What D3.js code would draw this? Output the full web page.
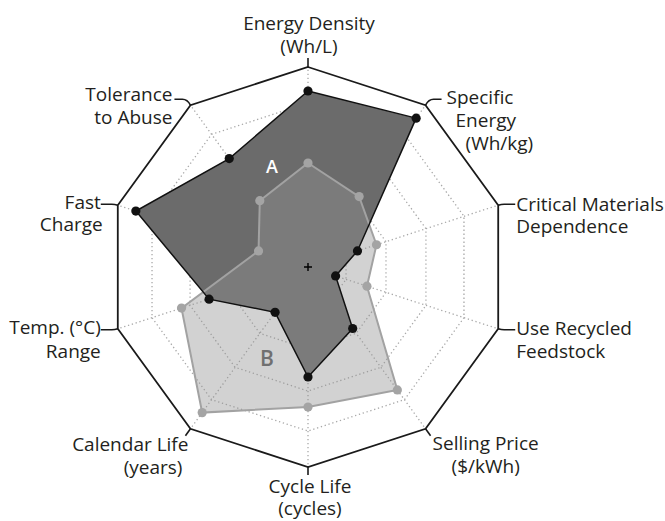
<!DOCTYPE html>
<html>
<head>
<meta charset="utf-8">
<script src="https://cdn.jsdelivr.net/npm/d3@7"></script>
<style>
  body { margin: 0; background: #fff; }
  svg text { font-family: "Open Sans", sans-serif; font-size: 19px; fill: #231f20; }
</style>
</head>
<body>
<div id="chart"></div>
<script>
// axis labels, clockwise from the top (one entry per line)
const axisLabels = [
  ['Energy Density', '(Wh/L)'],
  ['Specific', 'Energy', '(Wh/kg)'],
  ['Critical Materials', 'Dependence'],
  ['Use Recycled', 'Feedstock'],
  ['Selling Price', '($/kWh)'],
  ['Cycle Life', '(cycles)'],
  ['Calendar Life', '(years)'],
  ['Temp. (°C)', 'Range'],
  ['Fast', 'Charge'],
  ['Tolerance', 'to Abuse']
];

// series values, 0 = centre, 1 = outer frame
const seriesA = [0.88, 0.92, 0.26, 0.145, 0.38, 0.55, 0.28, 0.52, 0.905, 0.67];
const seriesB = [0.52, 0.435, 0.36, 0.31, 0.76, 0.70, 0.90, 0.665, 0.26, 0.41];

// dotted grid rings
const ringLevels = [0.2, 0.41, 0.62, 0.82];

const width = 665;
const height = 521;
const cx = 308;
const cy = 267;
const R = 200;

const n = axisLabels.length;
const angle = d3.scaleLinear().domain([0, n]).range([0, 2 * Math.PI]);
const r = d3.scaleLinear().domain([0, 1]).range([0, R]);

// position of value v on axis i
const pt = (i, v) => [
  cx + r(v) * Math.sin(angle(i)),
  cy - r(v) * Math.cos(angle(i))
];

const svg = d3
  .select('#chart')
  .append('svg')
  .attr('width', width)
  .attr('height', height);

const closed = d3.line().curve(d3.curveLinearClosed);
const ring = (v) => closed(d3.range(n).map((i) => pt(i, v)));

// Grid rings
svg
  .selectAll('.ring')
  .data(ringLevels)
  .join('path')
  .attr('class', 'ring')
  .attr('d', ring)
  .attr('fill', 'none')
  .attr('stroke', '#a8a8a8')
  .attr('stroke-width', 1.3)
  .attr('stroke-dasharray', '1.3,2.7');

// Spokes
svg
  .selectAll('.spoke')
  .data(d3.range(n))
  .join('line')
  .attr('class', 'spoke')
  .attr('x1', cx)
  .attr('y1', cy)
  .attr('x2', (i) => pt(i, 1)[0])
  .attr('y2', (i) => pt(i, 1)[1])
  .attr('stroke', '#a8a8a8')
  .attr('stroke-width', 1.3)
  .attr('stroke-dasharray', '1.3,2.7');

// Series A fill (drawn first)
svg
  .append('path')
  .attr('d', closed(seriesA.map((v, i) => pt(i, v))))
  .attr('fill', '#6b6b6b');

// Series B fill, partly see-through so A shows below it
svg
  .append('path')
  .attr('d', closed(seriesB.map((v, i) => pt(i, v))))
  .attr('fill', '#919191')
  .attr('fill-opacity', 0.41)
  .attr('stroke', '#a2a2a2')
  .attr('stroke-width', 2);

svg
  .selectAll('.dotB')
  .data(seriesB)
  .join('circle')
  .attr('class', 'dotB')
  .attr('cx', (v, i) => pt(i, v)[0])
  .attr('cy', (v, i) => pt(i, v)[1])
  .attr('r', 4.6)
  .attr('fill', '#a4a4a4');

// Series A outline and points on top
svg
  .append('path')
  .attr('d', closed(seriesA.map((v, i) => pt(i, v))))
  .attr('fill', 'none')
  .attr('stroke', '#111')
  .attr('stroke-width', 1.5);

svg
  .selectAll('.dotA')
  .data(seriesA)
  .join('circle')
  .attr('class', 'dotA')
  .attr('cx', (v, i) => pt(i, v)[0])
  .attr('cy', (v, i) => pt(i, v)[1])
  .attr('r', 4.6)
  .attr('fill', '#111');

// Outer frame
svg
  .append('path')
  .attr('d', ring(1))
  .attr('fill', 'none')
  .attr('stroke', '#1a1a1a')
  .attr('stroke-width', 1.8);

// Centre cross
svg
  .append('path')
  .attr('d', `M${cx - 4},${cy}H${cx + 4}M${cx},${cy - 4}V${cy + 4}`)
  .attr('stroke', '#000')
  .attr('stroke-width', 1.4);

// Label connectors, relative to the outer vertex
const connectors = [
  (x, y) => `M${x},${y}V${y - 9}`,
  (x, y) => `M${x},${y}Q${x + 3},${y - 6} ${x + 8},${y - 6}H${x + 16}`,
  (x, y) => `M${x},${y}Q${x + 3},${y - 1} ${x + 6},${y - 1}H${x + 17}`,
  (x, y) => `M${x},${y}Q${x + 3},${y + 1} ${x + 6},${y + 1}H${x + 17}`,
  (x, y) => `M${x},${y}l5,7`,
  (x, y) => `M${x},${y}V${y + 8}`,
  (x, y) => `M${x},${y}l-5,7`,
  (x, y) => `M${x},${y}Q${x - 3},${y + 1} ${x - 6},${y + 1}H${x - 17}`,
  (x, y) => `M${x},${y}Q${x - 3},${y - 1} ${x - 6},${y - 1}H${x - 17}`,
  (x, y) => `M${x},${y}Q${x - 3},${y - 6} ${x - 8},${y - 6}H${x - 16}`
];

svg
  .selectAll('.conn')
  .data(d3.range(n))
  .join('path')
  .attr('class', 'conn')
  .attr('d', (i) => connectors[i](...pt(i, 1)))
  .attr('fill', 'none')
  .attr('stroke', '#1a1a1a')
  .attr('stroke-width', 1.6);

// Label placement: anchor and per-line offsets from the outer vertex
const labelLayout = [
  { anchor: 'middle', off: [[1, -37], [1, -14]] },
  { anchor: 'start', off: [[21, -1], [30, 22], [40, 45]] },
  { anchor: 'start', off: [[18, 6], [18, 28]] },
  { anchor: 'start', off: [[18, 6], [18, 29]] },
  { anchor: 'start', off: [[7, 21], [26, 44]] },
  { anchor: 'middle', off: [[2, 26], [2, 48]] },
  { anchor: 'end', off: [[-2, 22], [-8, 45]] },
  { anchor: 'end', off: [[-17, 5], [-17, 29]] },
  { anchor: 'end', off: [[-17, 4], [-15, 26]] },
  { anchor: 'end', off: [[-18, -4], [-18, 19]] }
];

const labels = svg
  .selectAll('.label')
  .data(d3.range(n))
  .join('text')
  .attr('class', 'label')
  .attr('text-anchor', (i) => labelLayout[i].anchor);

labels
  .selectAll('tspan')
  .data((i) => axisLabels[i].map((t, k) => ({ t, i, k })))
  .join('tspan')
  .attr('x', (d) => pt(d.i, 1)[0] + labelLayout[d.i].off[d.k][0])
  .attr('y', (d) => pt(d.i, 1)[1] + labelLayout[d.i].off[d.k][1])
  .text((d) => d.t);

// Series tags
svg
  .append('text')
  .attr('x', cx - 36)
  .attr('y', cy - 94)
  .attr('text-anchor', 'middle')
  .style('font-size', '18px')
  .style('font-weight', 600)
  .style('fill', '#fff')
  .text('A');

svg
  .append('text')
  .attr('x', cx - 41)
  .attr('y', cy + 99)
  .attr('text-anchor', 'middle')
  .style('font-size', '21px')
  .style('font-weight', 600)
  .style('fill', '#707070')
  .text('B');
</script>
</body>
</html>
